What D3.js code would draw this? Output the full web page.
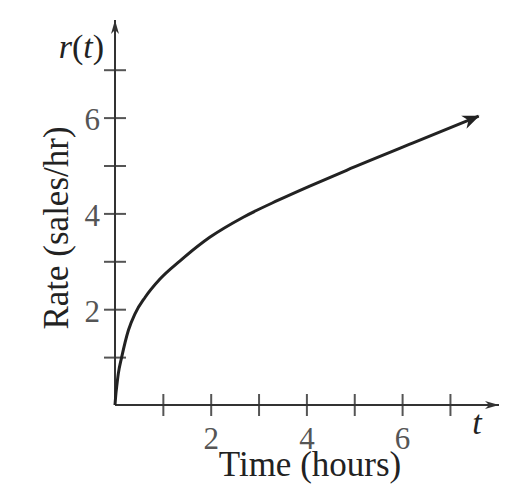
<!DOCTYPE html>
<html>
<head>
<meta charset="utf-8">
<script src="https://cdn.jsdelivr.net/npm/d3@7"></script>
<style>
  body { margin: 0; background: #fff; }
  text { font-family: 'Liberation Serif', 'Times New Roman', serif; }
</style>
</head>
<body>
<div id="chart-area"></div>
<script>
const WIDTH = 518
const HEIGHT = 498

// DATA
const tValues = [0, 0.02, 0.035, 0.07, 0.14, 0.28, 0.42, 0.63, 0.94, 1.36, 1.98, 2.68, 3.4, 4.07, 4.84, 6.23, 7.6]
const rValues = [0, 0.25, 0.38, 0.66, 1.0, 1.56, 1.91, 2.25, 2.63, 3.01, 3.5, 3.92, 4.27, 4.57, 4.9, 5.47, 6.03]
const xTicks = [1, 2, 3, 4, 5, 6, 7]
const xTickLabels = [2, 4, 6]
const yTicks = [1, 2, 3, 4, 5, 6, 7]
const yTickLabels = [2, 4, 6]

const data = tValues.map((t, i) => ({ t: t, r: rValues[i] }))

const svg = d3.select('#chart-area').append('svg')
  .attr('width', WIDTH)
  .attr('height', HEIGHT)

const defs = svg.append('defs')
defs.append('marker')
  .attr('id', 'small-arrow')
  .attr('markerUnits', 'userSpaceOnUse')
  .attr('markerWidth', 20).attr('markerHeight', 20)
  .attr('refX', 0).attr('refY', 0)
  .attr('viewBox', '-16 -8 20 16')
  .attr('orient', 'auto')
  .append('path')
  .attr('d', 'M0,0 L-14,-4 L-10,0 L-14,4 Z')
  .attr('fill', '#333')
defs.append('marker')
  .attr('id', 'big-arrow')
  .attr('markerUnits', 'userSpaceOnUse')
  .attr('markerWidth', 24).attr('markerHeight', 24)
  .attr('refX', 0).attr('refY', 0)
  .attr('viewBox', '-20 -10 24 20')
  .attr('orient', 'auto')
  .append('path')
  .attr('d', 'M1,0 L-16,-7 L-11,0 L-16,7 Z')
  .attr('fill', '#222')

// SCALES
const x = d3.scaleLinear()
  .domain([0, 8])
  .range([115, 115 + 8 * 47.85])
const y = d3.scaleLinear()
  .domain([0, 8])
  .range([405, 405 - 8 * 47.9])

// X AXIS
const xAxis = d3.axisBottom(x)
  .tickValues(xTicks)
  .tickSizeOuter(0)
  .tickFormat(d => xTickLabels.includes(d) ? d : '')
const xg = svg.append('g')
  .attr('transform', `translate(0, ${y(0)})`)
  .call(xAxis)
xg.select('.domain').remove()
xg.selectAll('.tick line')
  .attr('y1', -11).attr('y2', 11)
  .attr('stroke', '#555').attr('stroke-width', 2)
xg.selectAll('.tick text')
  .attr('y', 44).attr('dy', null)
  .attr('fill', '#555')
  .attr('font-size', '31px')
  .attr('font-family', "'Liberation Serif', serif")

// Y AXIS
const yAxis = d3.axisLeft(y)
  .tickValues(yTicks)
  .tickSizeOuter(0)
  .tickFormat(d => yTickLabels.includes(d) ? d : '')
const yg = svg.append('g')
  .attr('transform', `translate(${x(0)}, 0)`)
  .call(yAxis)
yg.select('.domain').remove()
yg.selectAll('.tick line')
  .attr('x1', -11).attr('x2', 11)
  .attr('stroke', '#555').attr('stroke-width', 2)
yg.selectAll('.tick text')
  .attr('x', -15).attr('dy', 12)
  .attr('fill', '#555')
  .attr('font-size', '31px')
  .attr('font-family', "'Liberation Serif', serif")

// AXIS LINES WITH ARROWS
svg.append('line')
  .attr('x1', x(0)).attr('y1', y(0))
  .attr('x2', 499).attr('y2', y(0))
  .attr('stroke', '#333').attr('stroke-width', 2)
  .attr('marker-end', 'url(#small-arrow)')
svg.append('line')
  .attr('x1', x(0)).attr('y1', y(0))
  .attr('x2', x(0)).attr('y2', 20)
  .attr('stroke', '#333').attr('stroke-width', 2)
  .attr('marker-end', 'url(#small-arrow)')

// CURVE
const line = d3.line()
  .x(d => x(d.t))
  .y(d => y(d.r))
  .curve(d3.curveMonotoneX)
svg.append('path')
  .datum(data)
  .attr('d', line)
  .attr('fill', 'none')
  .attr('stroke', '#222')
  .attr('stroke-width', 3)
  .attr('marker-end', 'url(#big-arrow)')

// LABELS
svg.append('text')
  .attr('x', 310)
  .attr('y', 476)
  .attr('font-size', '35px')
  .attr('fill', '#222')
  .attr('text-anchor', 'middle')
  .text('Time (hours)')
svg.append('text')
  .attr('x', -228)
  .attr('y', 68)
  .attr('font-size', '35px')
  .attr('fill', '#222')
  .attr('text-anchor', 'middle')
  .attr('transform', 'rotate(-90)')
  .text('Rate (sales/hr)')
svg.append('text')
  .attr('x', 477)
  .attr('y', 434)
  .attr('font-size', '34px')
  .attr('font-style', 'italic')
  .attr('fill', '#222')
  .attr('text-anchor', 'middle')
  .text('t')
svg.append('text')
  .attr('x', 104)
  .attr('y', 58)
  .attr('font-size', '34px')
  .attr('fill', '#222')
  .attr('text-anchor', 'end')
  .html('<tspan font-style="italic">r</tspan>(<tspan font-style="italic">t</tspan>)')
</script>
</body>
</html>
